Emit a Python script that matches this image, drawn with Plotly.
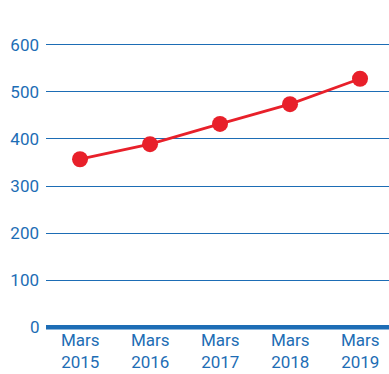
import plotly.graph_objects as go

# Annual values, March of each year
years = ["2015", "2016", "2017", "2018", "2019"]
values = [357, 389, 432, 474, 528]
x_labels = ["Mars<br>" + y for y in years]
y_ticks = [0, 100, 200, 300, 400, 500, 600]

BLUE = "#1d6db5"
RED = "#e8202a"
FONT = "Roboto, sans-serif"
FSIZE = 17

fig = go.Figure()
fig.add_trace(go.Scatter(
    x=list(range(len(years))),
    y=values,
    mode="lines+markers",
    line=dict(color=RED, width=2.8),
    marker=dict(color=RED, size=16),
    hoverinfo="skip",
))

# thick baseline at zero
fig.add_shape(type="line", xref="paper", yref="y", x0=0, x1=1, y0=0, y1=0,
              line=dict(color=BLUE, width=4.5), layer="below")

fig.update_layout(
    width=389, height=374,
    margin=dict(l=46, r=0, t=26, b=42),
    paper_bgcolor="white", plot_bgcolor="white",
    showlegend=False,
    font=dict(family=FONT, color=BLUE, size=FSIZE),
    xaxis=dict(
        range=[-0.486, 4.414],
        showticklabels=False,
        showgrid=False, zeroline=False, showline=False,
        ticks="", automargin=False,
        fixedrange=True,
    ),
    yaxis=dict(
        range=[-10, 640],
        tickmode="array",
        tickvals=y_ticks[1:],
        ticktext=[str(v) for v in y_ticks[1:]],
        showgrid=True, gridcolor=BLUE, gridwidth=1.2,
        zeroline=False, showline=False, automargin=False,
        ticks="", ticklabelstandoff=6,
        tickfont=dict(family=FONT, size=FSIZE, color=BLUE),
        fixedrange=True,
    ),
)

# two-line category labels under each point
for i, label in enumerate(x_labels):
    fig.add_annotation(x=i, xref="x", y=0, yref="paper", yanchor="top",
                       yshift=3, text=label, showarrow=False, borderpad=0,
                       font=dict(family=FONT, size=FSIZE, color=BLUE))

# zero label placed alongside the baseline
fig.add_annotation(x=0, xref="paper", xanchor="right", xshift=-4, y=0, yref="y",
                   text="0", showarrow=False, font=dict(family=FONT, size=FSIZE, color=BLUE))

fig.write_html("out.html")
